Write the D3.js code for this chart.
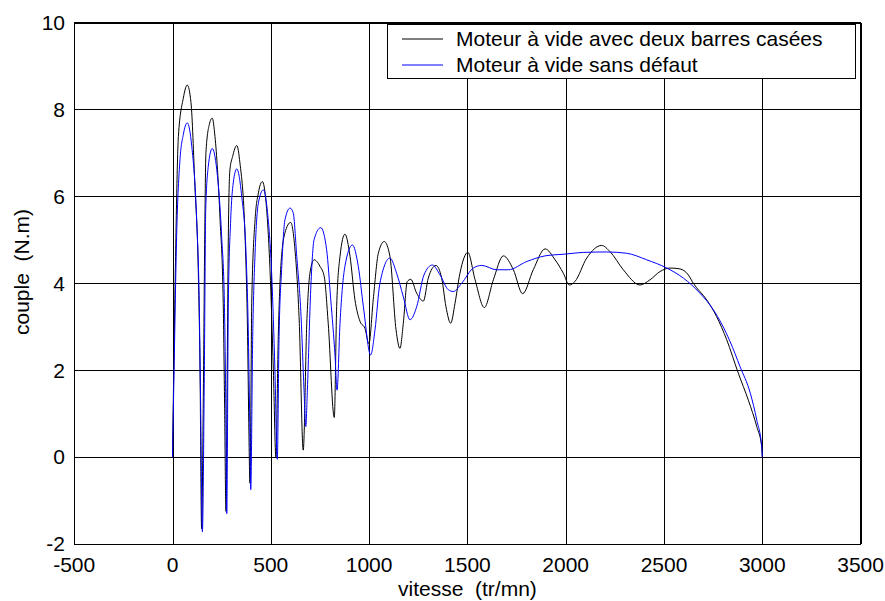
<!DOCTYPE html>
<html>
<head>
<meta charset="utf-8">
<script src="https://cdn.jsdelivr.net/npm/d3@7"></script>
<style>
    body { margin: 0; background: #fff; }
    svg text { font-family: "Liberation Sans", Arial, sans-serif; font-size: 21px; fill: #000; }
</style>
</head>
<body>
<div id="draw_here"></div>

<script type="text/javascript">
    // Data
    // Moteur à vide avec deux barres casées (black)
    vitesse_defaut = [0, 13, 30, 55, 75, 94, 114, 131, 140, 148, 157, 164, 170, 187, 202, 216, 242, 258, 265, 272,
        278, 284, 292, 306, 327, 343, 369, 382, 388, 394, 398, 403, 420, 437, 457, 476, 496, 513, 526, 538,
        550, 572, 601, 623, 645, 665, 683, 699, 720, 750, 772, 792, 823, 835, 852, 877, 903, 928, 954, 979,
        999, 1021, 1047, 1077, 1106, 1137, 1157, 1174, 1194, 1212, 1242, 1276, 1301, 1340, 1369, 1391, 1415, 1437, 1462, 1502,
        1539, 1586, 1632, 1683, 1734, 1781, 1835, 1895, 1946, 1988, 2018, 2047, 2107, 2183, 2225, 2293, 2378, 2429, 2480, 2531,
        2581, 2624, 2649, 2717, 2768, 2819, 2878, 2929, 2972, 2997, 3000]
    couple_defaut = [0, 3.93, 7.38, 8.26, 8.56, 8.16, 6.23, 4.31, 2.0, -1.65, 1.5, 5.08, 7.0, 7.65, 7.80, 7.38, 5.46, 3.54, 1.2, -1.25,
        1.8, 5.08, 6.61, 6.92, 7.17, 6.77, 5.08, 2.77, 0.8, -0.6, 0.8, 3.54, 5.46, 6.08, 6.34, 5.85, 4.31, 2.0, 0.0, 2.77,
        4.31, 5.16, 5.40, 4.77, 3.08, 0.16, 3.08, 4.23, 4.54, 4.39, 4.15, 3.08, 0.91, 3.46, 4.62, 5.13, 4.62, 3.62, 3.12, 2.96,
        2.61, 3.62, 4.69, 4.96, 4.62, 2.93, 2.50, 3.08, 4.04, 4.09, 3.77, 3.59, 4.12, 4.41, 4.12, 3.46, 3.08, 3.54, 4.23, 4.71,
        4.08, 3.44, 4.08, 4.63, 4.31, 3.76, 4.31, 4.79, 4.54, 4.23, 3.96, 4.04, 4.58, 4.87, 4.73, 4.31, 3.96, 4.08, 4.27, 4.35,
        4.33, 4.19, 4.0, 3.62, 3.23, 2.70, 1.93, 1.31, 0.70, 0.24, 0]

    // Moteur à vide sans défaut (blue)
    vitesse_sain = [0, 8, 21, 38, 55, 75, 98, 123, 136, 143, 152, 162, 169, 182, 202, 225, 250, 264, 271, 276,
        284, 296, 309, 327, 352, 374, 386, 394, 398, 408, 420, 437, 462, 482, 505, 521, 533, 542, 555, 572,
        598, 614, 632, 654, 669, 678, 686, 703, 720, 754, 784, 805, 827, 837, 852, 877, 915, 945, 971, 1008,
        1030, 1055, 1106, 1140, 1174, 1208, 1242, 1279, 1322, 1361, 1403, 1428, 1471, 1530, 1573, 1649, 1708, 1802, 1895, 1996,
        2090, 2209, 2310, 2412, 2514, 2598, 2683, 2751, 2836, 2887, 2939, 2972, 2997, 3000]
    couple_sain = [0, 2.0, 5.08, 6.84, 7.42, 7.69, 7.15, 5.46, 3.54, 1.24, -1.72, 2.0, 5.69, 6.69, 7.10, 6.62, 5.08, 3.54, 1.24, -1.30,
        3.54, 5.46, 6.31, 6.63, 6.0, 4.69, 2.77, 0.47, -0.75, 2.77, 4.69, 5.85, 6.15, 5.69, 4.15, 2.0, -0.05, 2.77, 4.31, 5.46,
        5.73, 5.62, 4.62, 3.23, 1.54, 0.70, 1.54, 3.85, 5.0, 5.28, 4.77, 3.62, 2.31, 1.54, 3.08, 4.39, 4.88, 4.39, 3.46, 2.35,
        2.93, 4.0, 4.58, 4.23, 3.69, 3.16, 3.46, 4.19, 4.42, 4.19, 3.85, 3.81, 4.0, 4.35, 4.41, 4.31, 4.31, 4.50, 4.63, 4.67,
        4.71, 4.72, 4.69, 4.54, 4.35, 4.12, 3.77, 3.39, 2.66, 2.08, 1.47, 0.85, 0.24, 0]

    x_ticks = [-500, 0, 500, 1000, 1500, 2000, 2500, 3000, 3500]
    y_ticks = [-2, 0, 2, 4, 6, 8, 10]
    legend_labels = ["Moteur à vide avec deux barres casées", "Moteur à vide sans défaut"]
    series_colors = ["#000000", "#0000ff"]

    // Setup chart
    canvas = ({width: 885, height: 601})
    margin = ({top: 22.5, right: 24.4, bottom: 57, left: 74.2})

    x = d3.scaleLinear()
        .domain([-500, 3500])
        .range([margin.left, canvas.width - margin.right])

    y = d3.scaleLinear()
        .domain([-2, 10])
        .range([canvas.height - margin.bottom, margin.top])

    var svg = d3.select("div#draw_here").append("svg")
        .attr("width", canvas.width)
        .attr("height", canvas.height)
        .attr("viewBox", [0, 0, canvas.width, canvas.height])

    // Grid lines (solid, black)
    svg.append("g")
        .attr("transform", `translate(0,${canvas.height - margin.bottom})`)
        .call(d3.axisBottom(x).tickValues(x_ticks).tickSize(-(y.range()[0] - y.range()[1])).tickFormat(""))
        .call(g => g.select(".domain").remove())
        .call(g => g.selectAll("line").attr("stroke", "#000").attr("shape-rendering", "crispEdges"))

    svg.append("g")
        .attr("transform", `translate(${margin.left},0)`)
        .call(d3.axisLeft(y).tickValues(y_ticks).tickSize(-(x.range()[1] - x.range()[0])).tickFormat(""))
        .call(g => g.select(".domain").remove())
        .call(g => g.selectAll("line").attr("stroke", "#000").attr("shape-rendering", "crispEdges"))

    // Tick labels
    svg.append("g").selectAll("text")
        .data(x_ticks)
        .join("text")
        .attr("x", d => x(d))
        .attr("y", 572)
        .attr("text-anchor", "middle")
        .text(d => d)

    svg.append("g").selectAll("text")
        .data(y_ticks)
        .join("text")
        .attr("x", 65)
        .attr("y", d => y(d))
        .attr("dy", "0.35em")
        .attr("text-anchor", "end")
        .text(d => d)

    // Axis titles
    svg.append("text")
        .attr("x", (x.range()[0] + x.range()[1]) / 2)
        .attr("y", 596)
        .attr("text-anchor", "middle")
        .attr("xml:space", "preserve")
        .text("vitesse  (tr/mn)")

    svg.append("text")
        .attr("transform", `translate(29,272) rotate(-90)`)
        .attr("text-anchor", "middle")
        .attr("xml:space", "preserve")
        .text("couple  (N.m)")

    // Curves
    line = d3.line()
        .x(d => x(d[0]))
        .y(d => y(d[1]))
        .curve(d3.curveMonotoneX)

    series = [d3.zip(vitesse_defaut, couple_defaut), d3.zip(vitesse_sain, couple_sain)]

    svg.append("g").selectAll("path")
        .data(series)
        .join("path")
        .attr("fill", "none")
        .attr("stroke", (d, i) => series_colors[i])
        .attr("stroke-width", 1)
        .attr("stroke-linejoin", "round")
        .attr("d", line)

    // Frame
    svg.append("rect")
        .attr("x", x.range()[0])
        .attr("y", y.range()[1])
        .attr("width", x.range()[1] - x.range()[0])
        .attr("height", y.range()[0] - y.range()[1])
        .attr("fill", "none")
        .attr("stroke", "#000")
        .attr("shape-rendering", "crispEdges")

    // Legend
    legend = svg.append("g")
        .attr("transform", "translate(387,24)")

    legend.append("rect")
        .attr("width", 468)
        .attr("height", 54)
        .attr("fill", "#fff")
        .attr("stroke", "#000")
        .attr("shape-rendering", "crispEdges")

    legend_rows = legend.selectAll("g.row")
        .data(legend_labels)
        .join("g")
        .attr("class", "row")
        .attr("transform", (d, i) => `translate(0,${15 + i * 26})`)

    legend_rows.append("line")
        .attr("x1", 15)
        .attr("x2", 56)
        .attr("stroke", (d, i) => series_colors[i])
        .attr("stroke-width", 1)

    legend_rows.append("text")
        .attr("x", 69)
        .attr("dy", "0.35em")
        .text(d => d)
</script>
</body>
</html>
